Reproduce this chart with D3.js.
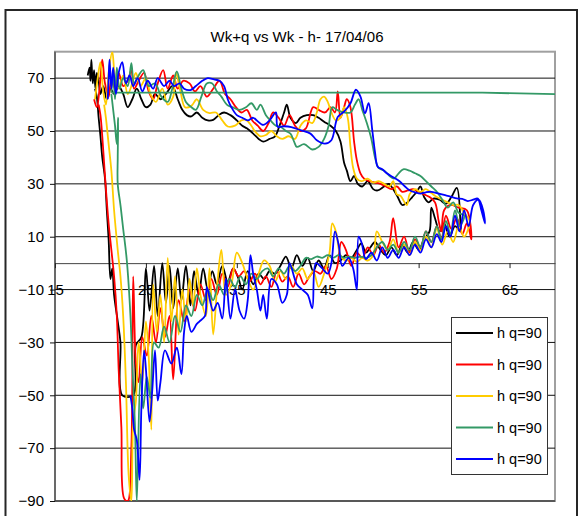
<!DOCTYPE html>
<html><head><meta charset="utf-8">
<script src="https://cdn.jsdelivr.net/npm/d3@7"></script>
<style>body{margin:0;background:#fff} svg{display:block;font-family:"Liberation Sans",Arial,sans-serif}</style>
</head><body><div id="chart"></div>
<script>
const chartTitle = "Wk+q vs Wk - h- 17/04/06";
const seriesLabels = ["h q=90","h q=90","h q=90","h q=90","h q=90"];
const seriesColors = ["#000000","#FF0000","#FFCC00","#339966","#0000FF"];
const xTicks = [15,25,35,45,55,65];
const yTicks = [70,50,30,10,-10,-30,-50,-70,-90];
const xDomain = [15,70];
const yDomain = [-90,80];

const blackPts = [[18.6,71],[18.8,74],[18.9,69],[19.0,77],[19.15,68],[19.3,73],[19.45,66],[19.6,72],[19.8,69],[20.0,64],[20.3,67],[20.7,62],[21.1,66],[21.5,64],[22.0,67],[22.5,64],[23.0,59],[23.5,62],[24.0,66],[24.5,62],[25.0,59],[25.5,60],[26.0,64],[26.6,62],[27.2,64],[27.9,67],[28.5,62],[29.0,58],[29.5,56],[30.0,55.5],[30.6,57],[31.2,55],[31.8,54],[32.4,54.2],[33.0,56],[33.6,57],[34.3,56],[35.0,54],[35.6,52],[36.1,51],[36.8,49],[37.4,47],[37.9,46],[38.6,47],[39.2,48],[39.7,52],[40.2,57],[40.5,60],[40.9,55],[41.5,53],[42.0,55],[42.7,56],[43.4,56],[44.0,55],[44.6,53.5],[45.3,52],[45.9,50],[46.4,46],[46.8,38],[47.1,35],[47.5,31],[47.9,33],[48.3,30],[48.8,29],[49.4,31],[50.0,28],[50.5,27.5],[51.2,29],[51.7,30],[52.2,28],[52.7,25],[53.2,22],[53.7,22.8],[54.3,25],[54.8,27],[55.2,29],[55.6,25],[56.1,23],[56.6,24.4],[57.3,24],[58.0,22.5],[58.6,25],[59.2,28.5],[59.6,15],[59.6,12],
[59.0,14],[58.4,10],[57.8,15],[57.3,12],[56.8,17],[56.4,21],[56.2,12],[55.6,9],[55.0,5],[54.4,8],[53.8,4],[53.2,7],[52.6,3],[52.0,6],[51.4,3],[50.8,5],[50.2,8],[49.7,6],[49.2,4],[48.7,7.5],[48.2,5],[47.6,2],[47.0,3],[46.4,1],[45.8,0],[45.2,3],[44.6,-2],[44.0,1],[43.4,-3],[42.8,2],[42.2,-1],[41.6,3],[41.0,-2],[40.4,2.5],[39.8,-1],[39.2,-4],[38.6,-3],[38.0,-6],[37.4,-4],[36.8,-8],[36.2,-3],[35.6,-10],[35.2,-6],[34.6,-2],[34.0,-7],[33.4,-1],[32.8,-8],[32.3,-3],[31.8,-10],[31.3,-2],[30.8,-12],[30.3,-3],[29.9,-16],[29.4,-1],[28.9,-14],[28.5,-2],[28.0,-17],[27.6,-1],[27.2,-15],[26.8,0],[26.3,-20],[25.9,-1],[25.4,-18],[25.0,-2],[24.5,-28],[23.9,-31],[23.6,-50],[22.4,-50],
[22.2,-30],[21.9,-22],[21.5,-12],[21.3,-2],[21.1,-6],[20.9,9],[20.7,20],[20.5,32],[20.2,40],[20.0,48],[19.8,55],[19.6,63],[19.4,66]];

const redPts = [[19.3,62],[19.6,59],[19.9,66],[20.2,77],[20.5,68],[20.9,63],[21.2,70],[21.6,66],[22.0,72],[22.5,67],[23.0,69],[23.4,73],[23.7,66],[24.2,69],[24.8,72],[25.3,65],[25.8,62],[26.3,68],[26.9,73],[27.4,66],[28.0,71],[28.5,66],[29.1,69],[29.8,68],[30.4,65],[31.0,67],[31.7,63],[32.4,66],[33.1,69],[33.7,64],[34.3,62],[34.9,59],[35.5,57],[36.1,58],[36.7,54],[37.3,52],[37.9,50],[38.5,53],[39.0,57],[39.6,55],[40.2,52],[40.8,56],[41.4,52],[42.0,50],[42.6,51],[43.4,59],[44.0,58],[44.7,57],[45.3,59],[45.8,57],[46.1,65],[46.4,55],[46.8,59],[47.1,62],[47.5,59],[47.9,46],[48.2,39],[48.6,34],[49.0,32],[49.6,31],[50.2,30.5],[50.8,30],[51.4,29],[52.0,28],[52.6,29],[53.2,27],[53.8,27.5],[54.4,28],[55.0,27],[55.6,26],[56.2,25],[56.8,23],[57.2,16],[57.5,12],[57.8,20],[58.5,22],[59.4,21],[60.3,20],[60.8,9],
[60.3,15],[59.8,11],[59.2,17],[58.6,13],[58.0,18],[57.5,9],[57.0,14],[56.4,8],[55.8,12],[55.2,6],[54.6,9],[54.0,4],[53.4,10],[52.8,6],[52.2,17],[51.8,8],[51.2,4],[50.6,7],[50.0,3],[49.4,6],[48.8,2],[48.2,4],[47.6,-1],[47.0,5],[46.5,8],[46.0,-2],[45.4,-6],[44.8,-1],[44.2,-4],[43.6,-3],[43.0,-5],[42.4,-8],[41.8,-4],[41.2,-9],[40.6,-5],[40.0,-7],[39.4,-3],[38.8,-9],[38.2,-5],[37.6,-8],[37.0,-4],[36.4,-7],[35.8,-3],[35.2,-5],[34.6,-2],[34.0,-9],[33.4,-4],[32.8,-12],[32.2,-6],[31.6,-14],[31.0,-8],[30.4,-18],[29.8,-10],[29.2,-22],[28.6,-14],[28.0,-44],[27.6,-20],[27.1,-28],[26.6,-17],[26.1,-30],[25.6,-20],[25.1,-35],[24.6,-28],[24.2,-45],[23.9,-38],[23.6,-5],[23.4,-70],[23.0,-90],[22.6,-89],
[22.3,-62],[22.0,-40],[21.8,-20],[21.5,-5],[21.2,5],[20.9,15],[20.6,28],[20.4,38],[20.2,48],[20.0,56],[19.8,60]];

const yellowPts = [[19.4,62],[19.7,70],[20.0,76],[20.3,65],[20.6,60],[20.9,72],[21.3,80],[21.6,70],[22.0,66],[22.5,71],[23.0,64],[23.5,68],[23.9,72],[24.4,67],[25.0,70],[25.5,64],[26.1,61],[26.8,66],[27.4,60],[28.0,63],[28.3,72],[28.8,65],[29.3,59],[30.0,59.5],[30.6,62],[31.3,58],[32.0,56.8],[32.7,57],[33.4,54],[34.0,51.7],[34.8,52],[35.5,54],[36.0,54.2],[36.6,52],[37.0,49.8],[37.6,48],[38.2,48.5],[38.8,50],[39.4,48],[40.0,47],[40.7,48],[41.4,47],[42.0,52],[42.6,54],[43.3,53],[43.8,57],[44.2,62],[44.6,63],[45.0,61],[45.4,57],[45.9,54],[46.4,55],[46.8,59],[47.2,55],[47.5,44],[47.8,36],[48.2,32],[48.7,31],[49.4,32],[50.0,30.5],[50.6,31],[51.2,30],[51.8,29],[52.2,31],[52.6,26],[53.0,25.5],[53.7,22],[54.0,26],[54.6,28],[55.2,27],[55.8,28],[56.4,26.5],[57.0,25],[57.6,24],[58.2,23],[58.8,22],[59.4,22],[60.0,19],[60.6,16],
[60.0,10],[59.4,14],[58.8,8],[58.2,12],[57.6,7],[57.0,13],[56.4,6],[55.8,10],[55.2,5],[54.6,8],[54.0,3],[53.4,7],[52.8,4],[52.2,9],[51.6,5],[51.0,8],[50.4,12],[50.0,3],[49.4,1],[48.8,2],[48.2,0.5],[47.6,2],[47.0,1],[46.4,3],[45.9,12],[45.5,15],[45.2,4],[44.6,-4],[44.0,-9],[43.4,-3],[42.8,-6],[42.2,-2],[41.6,-4],[41.0,-1],[40.4,-6],[39.8,-3],[39.2,-7],[38.6,-1],[38.0,1],[37.4,-4],[36.8,-10],[36.2,-6],[35.6,0],[35.0,4],[34.4,-8],[33.8,-12],[33.3,5],[32.9,-6],[32.4,-27],[32.0,-2],[31.6,-20],[31.0,-12],[30.6,-2],[30.2,-16],[29.8,-6],[29.4,-22],[29.0,-10],[28.6,-27],[28.2,-5],[27.8,-22],[27.4,2],[27.0,-30],[26.6,-12],[26.2,-26],[25.8,-8],[25.6,-63],[25.3,-35],[25.0,-22],[24.6,-45],[24.2,-30],[23.9,-52],[23.6,-60],[23.4,-90],
[23.1,-80],[22.8,-45],[22.5,-20],[22.2,-5],[21.9,5],[21.5,20],[21.2,35],[20.9,45],[20.6,55],[20.4,60]];

const greenLead = [[100,61.8],[62,64.5],[21.2,64.5]];
const greenPts = [[21.2,64.5],
[21.4,72],[21.6,62],[21.8,74],[22.1,66],[22.5,70],[23.0,67],[23.4,75.7],[23.7,68],[24.2,71],[24.7,73],[25.3,67],[26.0,68],[26.7,63],[27.4,61],[27.9,66],[28.4,72.5],[28.9,66],[29.4,61],[29.9,59.3],[30.5,58],[31.1,63],[31.7,68],[32.3,68],[32.8,65],[33.3,63],[33.9,60],[34.5,59],[35.3,58],[36.0,59],[36.6,60.5],[37.2,58],[37.6,60],[38.2,56],[38.7,54],[39.3,52],[39.8,51.6],[40.4,50],[40.9,49],[41.3,46],[41.6,44],[42.4,45],[43.3,43],[44.0,44],[44.6,47],[45.1,52],[45.5,59],[46.0,58],[46.8,57],[47.5,57],[48.0,60],[48.4,62],[48.8,58],[49.3,53],[49.8,47],[50.2,40],[50.6,36],[51.2,35],[51.8,33],[52.3,32],[52.8,34],[53.3,35.5],[54.0,35],[54.6,34],[55.2,33],[55.8,31],[56.4,29],[57.0,27],[57.6,24],[58.2,21],[58.8,23],[59.4,19],[60.0,18],
[59.5,14],[59.0,20],[58.5,11],[58.0,16],[57.5,9],[57.0,14],[56.4,8],[55.8,12],[55.2,6],[54.6,10],[54.0,5],[53.4,8],[52.8,4],[52.2,7],[51.6,5],[51.0,8],[50.4,6],[49.8,3],[49.2,2],[48.6,2.5],[48.0,2],[47.4,2.5],[46.8,2],[46.2,3],[45.6,2],[45.0,3],[44.4,2],[43.8,2.5],[43.2,1.5],[42.6,2],[42.0,-1],[41.4,-3],[40.8,-1],[40.2,-4],[39.6,-2],[39.0,-5],[38.4,-2],[37.8,-3],[37.2,-6],[36.6,-4],[36.0,-8],[35.4,-5],[34.8,-9],[34.2,-6],[33.6,-12],[33.0,-8],[32.4,-14],[31.8,-10],[31.2,-16],[30.6,-12],[30.0,-20],[29.4,-16],[28.8,-26],[28.2,-20],[27.6,-30],[27.0,-24],[26.4,-32],[25.9,-30],[25.5,-51],[25.1,-43],[24.7,-55],[24.4,-42],[24.0,-90],
[23.8,-62],[23.5,-38],[23.3,-20],[22.9,1],[22.5,13],[22.2,22],[21.9,30],[21.9,40],[21.95,55],[21.8,45],[21.6,52],[21.4,58],[21.2,64]];

const bluePts = [[20.8,62],[20.9,70],[21.0,77],[21.2,66],[21.4,74],[21.7,64],[22.0,72],[22.4,76],[22.8,68],[23.2,71],[23.6,67],[24.1,70],[24.6,65],[25.2,69],[25.8,66],[26.3,70],[27.0,67],[27.6,69],[28.1,67],[28.7,68],[29.2,66],[29.9,65.5],[30.5,67],[31.2,69],[31.8,70],[32.5,69.5],[33.1,69],[33.6,67],[34.0,62],[34.4,59],[35.0,56],[35.6,55],[36.2,54],[36.8,55],[37.2,54],[37.9,52.3],[38.6,54],[39.3,57],[39.5,51.6],[40.2,51.8],[41.0,51.5],[42.0,50.3],[43.1,49],[43.8,46.5],[44.7,45.2],[45.4,46.5],[46.1,55.3],[46.8,57.3],[47.5,60.5],[48.1,65.6],[48.6,63],[49.1,56.7],[49.5,60.5],[49.9,50.3],[50.2,42],[50.5,36.5],[51.0,35.5],[51.5,34],[52.2,32.5],[52.9,31],[53.5,29],[54.0,27.6],[54.6,26.8],[55.2,26.3],[55.8,26.8],[56.4,27],[57.0,26.5],[57.8,25.8],[58.5,25.2],[59.2,24.5],[59.8,24.3],[60.4,23.5],[61.0,24],[61.5,24.4],[61.9,20],[62.3,15],
[62.1,20],[61.6,24],[61.0,22],[60.5,14],[60.0,20],[59.5,12],[59.0,18],[58.5,10],[58.0,14],[57.5,8],[57.0,11],[56.4,6],[55.8,9],[55.2,4],[54.6,7],[54.0,3],[53.4,6],[52.8,2],[52.2,5],[51.6,2],[51.0,6],[50.4,1],[49.8,4],[49.2,1.5],[48.7,8],[48.4,10],[48.2,-10],[47.8,-2],[47.3,2],[46.6,-1],[46.2,7],[45.8,12],[45.4,0],[45.0,-4],[44.4,-2],[43.7,0],[43.3,-17],[42.8,-12],[42.2,-10],[41.6,-8],[40.8,0],[40.5,-12],[40.0,-15],[39.4,-8],[38.8,-6],[38.3,-21],[37.9,-12],[37.6,-18],[37.2,-10],[36.8,-4],[36.5,3],[36.2,-14],[35.8,-21],[35.3,-18],[34.8,-10],[34.3,-21],[33.8,-6],[33.4,-21],[32.9,-15],[32.4,-18],[31.7,-9],[31.5,-20],[30.9,-22],[30.6,-23],[30.0,-26],[29.5,-20],[29.2,-26],[28.9,-42],[28.4,-32],[27.8,-38],[27.1,-33],[26.6,-45],[26.3,-52],[26.0,-33],[25.7,-48],[25.4,-60],[25.0,-40],[24.8,-33],[24.5,-55],[24.3,-82],[24.0,-67],[23.7,-63],[23.5,-55],[23.3,-50]];

const allSeries = [blackPts, redPts, yellowPts, greenPts, bluePts];

const W = 581, H = 516;
const P = {l:55, r:555, t:51.7, b:501};
const svg = d3.select("#chart").append("svg").attr("width", W).attr("height", H);
const x = d3.scaleLinear().domain(xDomain).range([P.l, P.r]);
const y = d3.scaleLinear().domain(yDomain).range([P.b, P.t]);

svg.append("rect").attr("x",0).attr("y",0).attr("width",W).attr("height",H).attr("fill","#fff");
svg.append("rect").attr("x",5.5).attr("y",10).attr("width",571.5).attr("height",530)
  .attr("fill","none").attr("stroke","#262626").attr("stroke-width",2);

svg.append("text").attr("x",297).attr("y",41.5).attr("text-anchor","middle")
  .attr("font-size",15).attr("fill","#000").text(chartTitle);

svg.append("rect").attr("x",P.l).attr("y",P.t).attr("width",P.r-P.l).attr("height",P.b-P.t)
  .attr("fill","none").attr("stroke","#a0a0a0").attr("stroke-width",2);

svg.append("g").selectAll("line").data(yTicks).join("line")
  .attr("x1",P.l).attr("x2",P.r).attr("y1",d=>y(d)).attr("y2",d=>y(d))
  .attr("stroke","#111").attr("stroke-width",1);

const yAxis = svg.append("g").attr("transform",`translate(${P.l},0)`)
  .call(d3.axisLeft(y).tickValues(yTicks).tickSize(5).tickPadding(6).tickSizeOuter(0));
yAxis.select(".domain").attr("stroke","#333").attr("d",`M0,${P.t}V${P.b}`);
yAxis.selectAll("line").attr("stroke","#111");
yAxis.selectAll("text").attr("font-size",15).attr("font-family","Liberation Sans, Arial, sans-serif").attr("fill","#000");

const xAxis = svg.append("g").attr("transform",`translate(0,${y(0)})`)
  .call(d3.axisBottom(x).tickValues(xTicks).tickSize(5).tickPadding(16).tickSizeOuter(0));
xAxis.select(".domain").attr("stroke","#444");
xAxis.selectAll("line").attr("stroke","#222");
xAxis.selectAll("text").attr("font-size",15).attr("font-family","Liberation Sans, Arial, sans-serif").attr("fill","#000");

svg.append("clipPath").attr("id","pc").append("rect")
  .attr("x",P.l).attr("y",P.t).attr("width",P.r-P.l).attr("height",P.b-P.t);

const smooth = d3.line().x(d=>x(d[0])).y(d=>y(d[1])).curve(d3.curveCatmullRom.alpha(0.5));
const straight = d3.line().x(d=>x(d[0])).y(d=>y(d[1]));
const g = svg.append("g").attr("clip-path","url(#pc)");
allSeries.forEach((pts,i)=>{
  if (pts === greenPts) {
    g.append("path").attr("d",straight(greenLead)).attr("fill","none")
      .attr("stroke",seriesColors[i]).attr("stroke-width",1.8);
  }
  g.append("path").attr("d",smooth(pts)).attr("fill","none")
    .attr("stroke",seriesColors[i]).attr("stroke-width",1.8).attr("stroke-linejoin","round");
});

const L = {x:451, y:317, w:96, h:157};
const lg = svg.append("g");
lg.append("rect").attr("x",L.x+0.5).attr("y",L.y+0.5).attr("width",L.w).attr("height",L.h)
  .attr("fill","#fff").attr("stroke","#333").attr("stroke-width",1);
seriesLabels.forEach((lab,i)=>{
  const cy = 333 + i*31.5;
  lg.append("line").attr("x1",456).attr("x2",493).attr("y1",cy).attr("y2",cy)
    .attr("stroke",seriesColors[i]).attr("stroke-width",1.8);
  lg.append("text").attr("x",497).attr("y",cy+5).attr("font-size",14.5).attr("fill","#000").text(lab);
});
</script>
</body></html>
